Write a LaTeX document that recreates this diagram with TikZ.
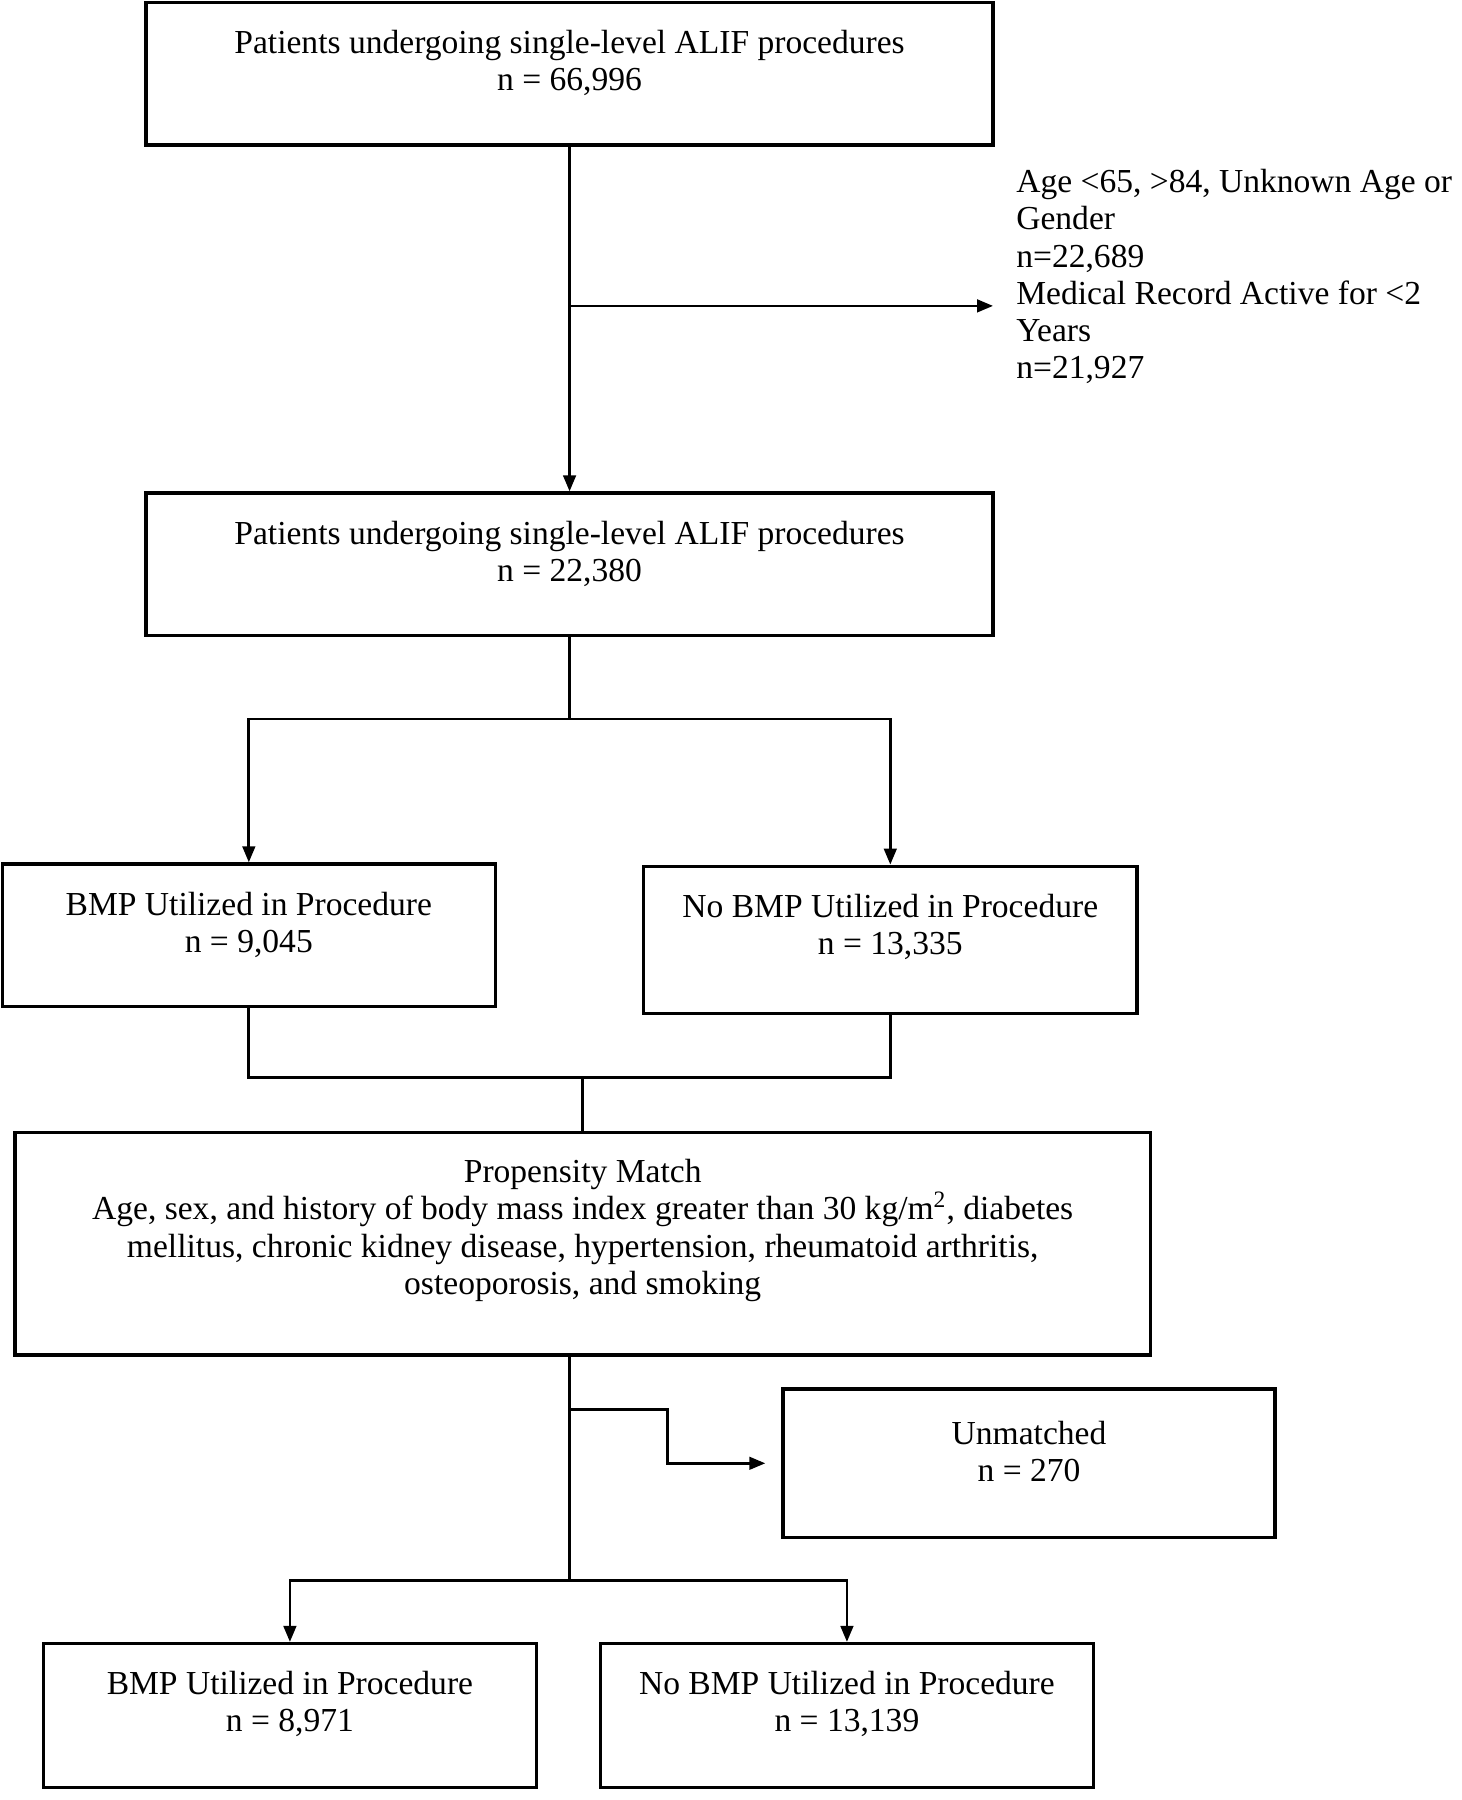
\documentclass[tikz,border=0pt]{standalone}
\usepackage{fontspec}
\setmainfont{Liberation Serif}
\usetikzlibrary{arrows.meta}
\begin{document}
\begin{tikzpicture}[x=0.5pt,y=-0.5pt,
  box/.style={draw=black, line width=1.5pt, rectangle, inner sep=0pt},
  txt/.style={inner sep=0pt, align=center, font=\fontsize{14.7}{16.3}\selectfont},
  sidetxt/.style={inner sep=0pt, align=left, font=\fontsize{14.7}{16.3}\selectfont},
  conn/.style={draw=black, line width=1.2pt},
  arr/.style={conn, -{Triangle[length=7pt,width=5.5pt]}}]
\useasboundingbox (0,0) rectangle (1280,1577);
\fill[white] (0,0) rectangle (1280,1577);
% boxes
\node[box, minimum width=371pt, minimum height=62.5pt] (b1) at (499,64.5) {};
\node[txt] (t1) at (499,55) {Patients undergoing single-level ALIF procedures\\n = 66,996};
\node[box, minimum width=371pt, minimum height=62.5pt] (b2) at (499,494.5) {};
\node[txt] (t2) at (499,485) {Patients undergoing single-level ALIF procedures\\n = 22,380};
\node[box, minimum width=216pt, minimum height=62.5pt] (b3) at (218,819.5) {};
\node[txt] (t3) at (218,810) {BMP Utilized in Procedure\\n = 9,045};
\node[box, minimum width=216pt, minimum height=64.5pt] (b4) at (780,823.5) {};
\node[txt] (t4) at (780,812) {No BMP Utilized in Procedure\\n = 13,335};
\node[box, minimum width=497.5pt, minimum height=97.5pt] (b5) at (510.5,1089.5) {};
\node[txt] (t5) at (510.5,1078) {Propensity Match\\Age, sex, and history of body mass index greater than 30 kg/m\textsuperscript{2}, diabetes\\mellitus, chronic kidney disease, hypertension, rheumatoid arthritis,\\osteoporosis, and smoking};
\node[box, minimum width=215.5pt, minimum height=65pt] (b6) at (901.5,1282) {};
\node[txt] (t6) at (901.5,1272) {Unmatched\\n = 270};
\node[box, minimum width=216pt, minimum height=63pt] (b7) at (254,1503) {};
\node[txt] (t7) at (254,1493) {BMP Utilized in Procedure\\n = 8,971};
\node[box, minimum width=216pt, minimum height=63pt] (b8) at (742,1503) {};
\node[txt] (t8) at (742,1493) {No BMP Utilized in Procedure\\n = 13,139};
% side text
\node[sidetxt, anchor=north west] (side) at (890,148) {Age <65, >84, Unknown Age or\\Gender\\n=22,689\\Medical Record Active for <2\\Years\\n=21,927};
% junctions
\coordinate (j1) at (499,268);
\coordinate (e1) at (870,268);
\coordinate (j2) at (499,630);
\coordinate (j3) at (510.5,944);
\coordinate (j5) at (499,1235);
\coordinate (k5) at (585,1282);
\coordinate (j4) at (499,1385);
% connectors
\draw[arr] (b1.south) -- (b2.north);
\draw[arr] (j1) -- (e1);
\draw[conn] (b2.south) -- (j2);
\draw[arr] (j2) -| (b3.north);
\draw[arr] (j2) -| (b4.north);
\draw[conn] (b3.south) |- (j3);
\draw[conn] (b4.south) |- (j3);
\draw[conn] (j3) -- (b5.north);
\draw[conn] (j4 |- b5.south) -- (j4);
\draw[arr, shorten >=7pt] (j5) -| (k5) -- (b6.west);
\draw[arr] (j4) -| (b7.north);
\draw[arr] (j4) -| (b8.north);
\end{tikzpicture}
\end{document}
